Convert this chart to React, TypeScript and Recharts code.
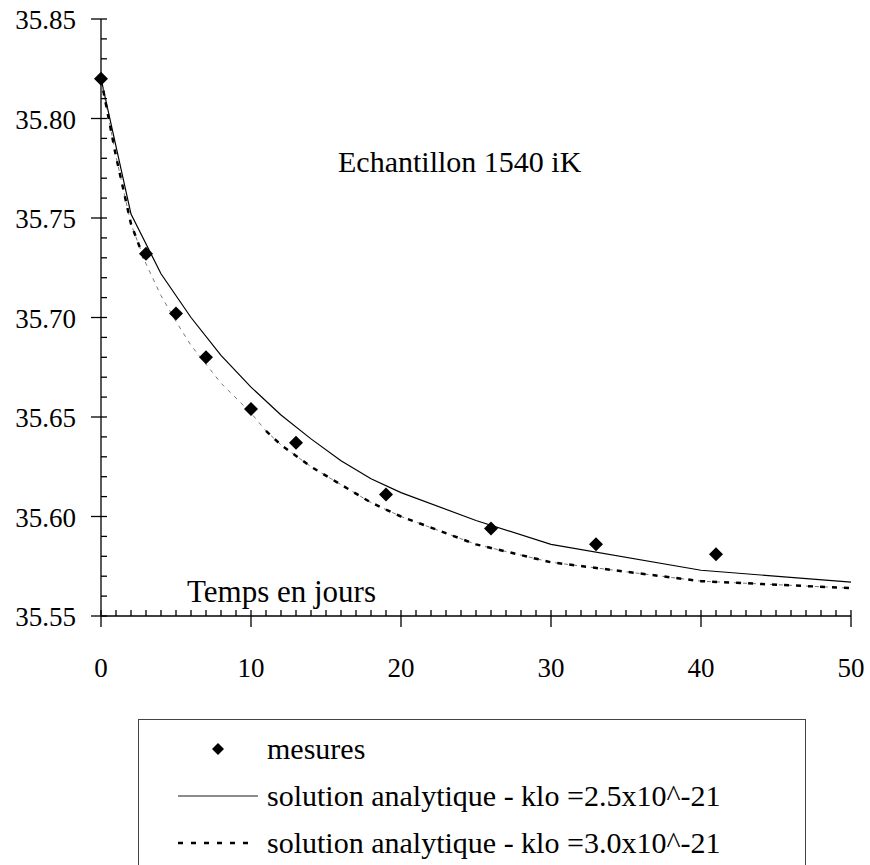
import React from 'react';
import {
  ComposedChart,
  Line,
  Scatter,
  XAxis,
  YAxis,
  Legend,
  Customized,
} from 'recharts';

// mesures (jours, valeur)
const measureDays = [0, 3, 5, 7, 10, 13, 19, 26, 33, 41];
const measureValues = [35.82, 35.732, 35.702, 35.68, 35.654, 35.637, 35.611, 35.594, 35.586, 35.581];

// solution analytique klo = 2.5x10^-21
const solidDays = [0, 2, 4, 6, 8, 10, 12, 14, 16, 18, 20, 25, 30, 40, 50];
const solidValues = [35.82, 35.752, 35.722, 35.7, 35.681, 35.665, 35.651, 35.639, 35.628, 35.619, 35.612, 35.598, 35.586, 35.573, 35.567];

// solution analytique klo = 3.0x10^-21
const dottedDays = [0, 1, 2, 3, 4, 5, 6, 8, 10, 11, 12, 14, 16, 18, 20, 25, 30, 40, 50];
const dottedValues = [35.82, 35.781, 35.747, 35.727, 35.711, 35.698, 35.686, 35.667, 35.652, 35.643, 35.636, 35.625, 35.616, 35.607, 35.6, 35.586, 35.577, 35.5675, 35.564];

const xTicks = Array.from({ length: 51 }, (_, i) => i);
const yTicks = Array.from({ length: 31 }, (_, i) => Math.round((35.55 + i * 0.01) * 100) / 100);

const seriesNames = [
  'mesures',
  'solution analytique - klo =2.5x10^-21',
  'solution analytique - klo =3.0x10^-21',
];

const chartTitle = 'Echantillon 1540 iK';
const xTitle = 'Temps en jours';

const FONT = "'Liberation Serif', 'Times New Roman', serif";

const measureData = measureDays.map((d, i) => ({ day: d, value: measureValues[i] }));
const solidData = solidDays.map((d, i) => ({ day: d, value: solidValues[i] }));
// the reference draws the steep middle part of this curve thin and gray
const dottedData = dottedDays.map((d, i) => ({
  day: d,
  value: dottedValues[i],
  bold: d > 3 && d < 11 ? null : dottedValues[i],
}));

const XTick = (props: any) => {
  const { x, y, payload } = props;
  const v = payload.value;
  const major = v % 10 === 0;
  return (
    <g>
      <line x1={x} x2={x} y1={y - 6} y2={major ? y + 11 : y} stroke="#000" strokeWidth={1.3} />
      {major && (
        <text x={x} y={y + 61} textAnchor="middle" fontSize={27} fontFamily={FONT} fill="#000">
          {v}
        </text>
      )}
    </g>
  );
};

const YTick = (props: any) => {
  const { x, y, payload } = props;
  const v = payload.value;
  const major = Math.round(v * 100) % 5 === 0;
  return (
    <g>
      <line x1={major ? x - 10 : x} x2={x + 6} y1={y} y2={y} stroke="#000" strokeWidth={1.3} />
      {major && (
        <text x={x - 25} y={y + 10} textAnchor="end" fontSize={27} fontFamily={FONT} fill="#000">
          {v.toFixed(2)}
        </text>
      )}
    </g>
  );
};

const Diamond = (props: any) => {
  const { cx, cy } = props;
  const r = 7;
  return <path d={`M${cx},${cy - r}L${cx + r},${cy}L${cx},${cy + r}L${cx - r},${cy}Z`} fill="#000" />;
};

const renderLegend = () => {
  const rowStyle = (top: number): React.CSSProperties => ({
    position: 'absolute',
    left: 0,
    top,
    height: 47,
    width: '100%',
  });
  const textStyle: React.CSSProperties = {
    position: 'absolute',
    left: 128,
    top: 0,
    lineHeight: '47px',
    fontSize: 30,
    fontFamily: FONT,
    color: '#000',
    whiteSpace: 'nowrap',
  };
  const iconStyle: React.CSSProperties = { position: 'absolute', left: 39, top: 0 };
  return (
    <div
      style={{
        position: 'relative',
        width: 668,
        height: 146,
        borderTop: '1.5px solid #444',
        borderLeft: '1.5px solid #444',
        borderRight: '1.5px solid #444',
        boxSizing: 'border-box',
        background: '#fff',
      }}
    >
      <div style={rowStyle(5)}>
        <svg width={80} height={47} style={iconStyle}>
          <path d="M40,18L46,24L40,30L34,24Z" fill="#000" />
        </svg>
        <span style={textStyle}>{seriesNames[0]}</span>
      </div>
      <div style={rowStyle(52)}>
        <svg width={80} height={47} style={iconStyle}>
          <line x1={0} x2={80} y1={24} y2={24} stroke="#666" strokeWidth={1.5} />
        </svg>
        <span style={textStyle}>{seriesNames[1]}</span>
      </div>
      <div style={rowStyle(99)}>
        <svg width={80} height={47} style={iconStyle}>
          <line x1={0} x2={76} y1={24} y2={24} stroke="#000" strokeWidth={2.5} strokeDasharray="5 8" />
        </svg>
        <span style={textStyle}>{seriesNames[2]}</span>
      </div>
    </div>
  );
};

const Texts = () => (
  <g>
    <text x={338} y={172} fontSize={30} fontFamily={FONT} fill="#000">
      {chartTitle}
    </text>
    <text x={187} y={602} fontSize={31} fontFamily={FONT} fill="#000">
      {xTitle}
    </text>
  </g>
);

export default function App() {
  return (
    <div style={{ position: 'absolute', left: 0, top: 0, width: 870, height: 865, background: '#fff' }}>
      <ComposedChart
        width={870}
        height={865}
        margin={{ top: 19, right: 19, bottom: 219, left: 0 }}
      >
        <XAxis
          dataKey="day"
          type="number"
          domain={[0, 50]}
          ticks={xTicks}
          interval={0}
          tickSize={0}
          tickMargin={0}
          tickLine={false}
          tick={<XTick />}
          axisLine={{ stroke: '#000', strokeWidth: 1.3 }}
          height={30}
        />
        <YAxis
          type="number"
          domain={[35.55, 35.85]}
          ticks={yTicks}
          interval={0}
          tickSize={0}
          tickMargin={0}
          tickLine={false}
          tick={<YTick />}
          axisLine={{ stroke: '#000', strokeWidth: 1.3 }}
          width={101}
        />
        <Line
          data={solidData}
          dataKey="value"
          name={seriesNames[1]}
          type="linear"
          stroke="#000"
          strokeWidth={1.2}
          dot={false}
          isAnimationActive={false}
        />
        <Line
          data={dottedData}
          dataKey="value"
          name={seriesNames[2]}
          type="linear"
          stroke="#777"
          strokeWidth={1}
          strokeDasharray="4 5"
          dot={false}
          legendType="none"
          isAnimationActive={false}
        />
        <Line
          data={dottedData}
          dataKey="bold"
          name={seriesNames[2]}
          type="linear"
          stroke="#000"
          strokeWidth={2.5}
          strokeDasharray="5 7"
          dot={false}
          connectNulls={false}
          isAnimationActive={false}
        />
        <Scatter
          data={measureData}
          dataKey="value"
          name={seriesNames[0]}
          shape={<Diamond />}
          isAnimationActive={false}
        />
        <Customized component={Texts} />
        <Legend
          layout="vertical"
          align="center"
          verticalAlign="middle"
          content={renderLegend}
          wrapperStyle={{ left: 138, top: 719, width: 668 }}
        />
      </ComposedChart>
    </div>
  );
}
